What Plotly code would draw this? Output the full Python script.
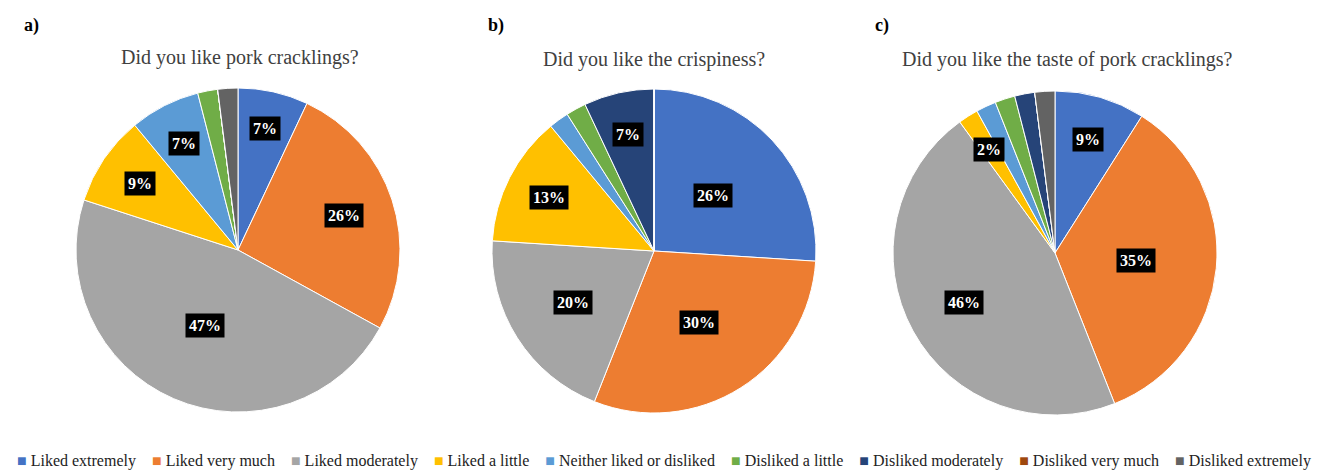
import math
import plotly.graph_objects as go

categories = ["Liked extremely", "Liked very much", "Liked moderately", "Liked a little",
              "Neither liked or disliked", "Disliked a little", "Disliked moderately",
              "Disliked very much", "Disliked extremely"]
colors = ["#4472C4", "#ED7D31", "#A5A5A5", "#FFC000", "#5B9BD5", "#70AD47", "#264478", "#9E480E", "#636363"]

vals_a = [7, 26, 47, 9, 7, 2, 0, 0, 2]
vals_b = [26, 30, 20, 13, 2, 2, 7, 0, 0]
vals_c = [9, 35, 46, 2, 2, 2, 2, 0, 2]

titles = ["Did you like pork cracklings?", "Did you like the crispiness?", "Did you like the taste of pork cracklings?"]
panel_tags = ["a)", "b)", "c)"]
# which slices carry a data label
show_a = [1, 1, 1, 1, 1, 0, 0, 0, 0]
show_b = [1, 1, 1, 1, 0, 0, 1, 0, 0]
show_c = [1, 1, 1, 1, 0, 0, 0, 0, 0]

# layout/style
W, H = 1321, 470
centers = [(238, 250), (654, 251), (1055, 253)]  # pixel centres
R = 162
radial = [[0.77, 0.69, 0.51, 0.73, 0.74, 0, 0, 0, 0],
          [0.50, 0.52, 0.59, 0.73, 0, 0, 0.74, 0, 0],
          [0.73, 0.50, 0.64, 0.76, 0, 0, 0, 0, 0]]
title_pos = [(240, 57), (654, 59), (1067, 59)]
tag_pos = [(31, 26), (496, 26), (882, 26)]
legend_pos = (664, 461)

fig = go.Figure()
annotations = []
for k, (vals, show) in enumerate([(vals_a, show_a), (vals_b, show_b), (vals_c, show_c)]):
    cx, cy = centers[k]
    fig.add_trace(go.Pie(
        labels=categories, values=vals, sort=False, direction="clockwise", rotation=0,
        marker=dict(colors=colors, line=dict(color="white", width=1)),
        textinfo="none", hoverinfo="label+percent", showlegend=False,
        domain=dict(x=[(cx - R) / W, (cx + R) / W], y=[1 - (cy + R) / H, 1 - (cy - R) / H]),
    ))
    total = sum(vals)
    cum = 0
    for i, v in enumerate(vals):
        if show[i] and v > 0:
            mid = (cum + v / 2) / total * 2 * math.pi
            f = radial[k][i]
            px = cx + f * R * math.sin(mid)
            py = cy - f * R * math.cos(mid)
            annotations.append(dict(
                x=px / W, y=1 - py / H, xref="paper", yref="paper", xanchor="center", yanchor="middle",
                text="<b>%d%%</b>" % round(v / total * 100), showarrow=False,
                font=dict(family="Liberation Serif", size=16, color="white"),
                bgcolor="black", borderpad=3))
        cum += v
    tx, ty = title_pos[k]
    annotations.append(dict(x=tx / W, y=1 - ty / H, xref="paper", yref="paper", xanchor="center", yanchor="middle",
                            text=titles[k], showarrow=False,
                            font=dict(family="Liberation Serif", size=20, color="#404040")))
    gx, gy = tag_pos[k]
    annotations.append(dict(x=gx / W, y=1 - gy / H, xref="paper", yref="paper", xanchor="center", yanchor="middle",
                            text="<b>%s</b>" % panel_tags[k], showarrow=False,
                            font=dict(family="Liberation Serif", size=18, color="black")))

# legend built from the category / colour lists
legend_text = "&nbsp;&nbsp;&nbsp;&nbsp;".join(
    "<span style='color:%s'>■</span> %s" % (c, lab) for c, lab in zip(colors, categories))
annotations.append(dict(x=legend_pos[0] / W, y=1 - legend_pos[1] / H, xref="paper", yref="paper",
                        xanchor="center", yanchor="middle", text=legend_text, showarrow=False,
                        font=dict(family="Liberation Serif", size=16, color="#222222")))

fig.update_layout(
    width=W, height=H, margin=dict(l=0, r=0, t=0, b=0),
    paper_bgcolor="white", plot_bgcolor="white",
    annotations=annotations, showlegend=False,
)
fig.write_html("out.html")
